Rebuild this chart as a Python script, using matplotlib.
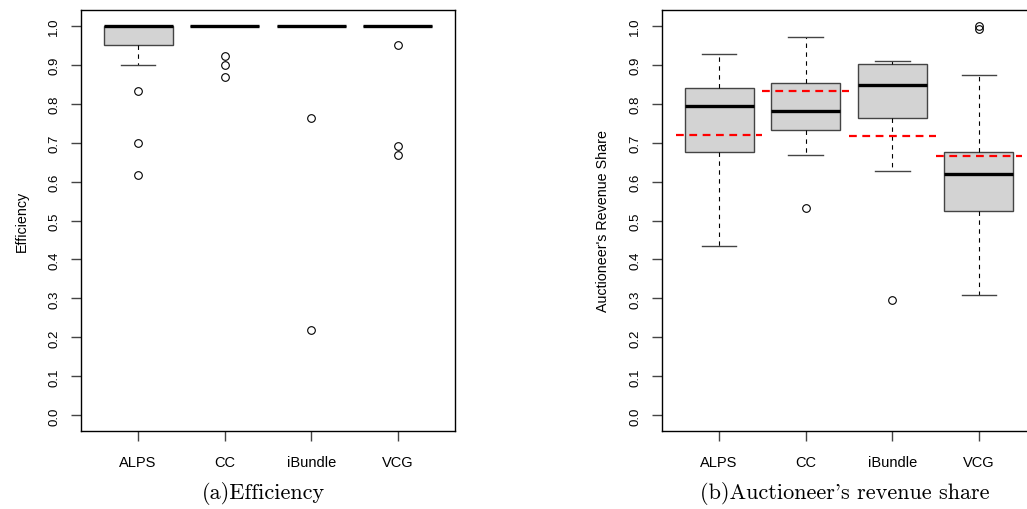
import matplotlib
matplotlib.use("Agg")
import matplotlib.pyplot as plt

# auction mechanisms on the x axis
mechanisms = ["ALPS", "CC", "iBundle", "VCG"]

# (a) efficiency: five-number summaries and outliers
eff_whislo = [0.90, 1.0, 1.0, 1.0]
eff_q1 = [0.95, 1.0, 1.0, 1.0]
eff_med = [1.0, 1.0, 1.0, 1.0]
eff_q3 = [1.0, 1.0, 1.0, 1.0]
eff_whishi = [1.0, 1.0, 1.0, 1.0]
eff_fliers = [[0.833, 0.70, 0.617],
              [0.923, 0.90, 0.867],
              [0.763, 0.218],
              [0.95, 0.69, 0.667]]

# (b) auctioneer's revenue share
rev_whislo = [0.434, 0.667, 0.627, 0.310]
rev_q1 = [0.676, 0.733, 0.764, 0.525]
rev_med = [0.793, 0.781, 0.847, 0.619]
rev_q3 = [0.841, 0.853, 0.902, 0.675]
rev_whishi = [0.927, 0.972, 0.909, 0.874]
rev_fliers = [[], [0.533], [0.297], [0.998, 0.992]]
rev_mean = [0.720, 0.831, 0.716, 0.665]

yticks = [i / 10 for i in range(11)]


def make_stats(lo, q1, med, q3, hi, fl):
    return [dict(whislo=a, q1=b, med=c, q3=d, whishi=e, fliers=f)
            for a, b, c, d, e, f in zip(lo, q1, med, q3, hi, fl)]


def r_boxplot(ax, stats, ylabel):
    pos = list(range(1, len(stats) + 1))
    ax.bxp(stats, positions=pos, widths=0.8, capwidths=0.4,
           patch_artist=True, showfliers=True,
           boxprops=dict(facecolor="#d3d3d3", edgecolor="#444444", linewidth=1.0),
           medianprops=dict(color="black", linewidth=2.4, solid_capstyle="butt"),
           whiskerprops=dict(color="black", linewidth=0.8, linestyle=(0, (4, 4))),
           capprops=dict(color="#444444", linewidth=1.0),
           flierprops=dict(marker="o", markerfacecolor="none",
                           markeredgecolor="black", markersize=5.5,
                           markeredgewidth=0.8))
    ax.set_xlim(0.34, 4.66)
    ax.set_ylim(-0.04, 1.04)
    ax.set_xticks(pos)
    ax.set_xticklabels(mechanisms, fontsize=10.5, family="Liberation Sans")
    ax.set_yticks(yticks)
    ax.set_yticklabels([f"{v:.1f}" for v in yticks], rotation=90,
                       va="center", fontsize=9.5, family="Liberation Sans")
    ax.tick_params(axis="x", length=7, width=1, color="#444444", pad=10)
    ax.tick_params(axis="y", length=7, width=1, color="#444444", pad=8)
    for s in ax.spines.values():
        s.set_linewidth(1.0)
        s.set_color("black")
    ax.set_ylabel(ylabel, fontsize=10.3, family="Liberation Sans", labelpad=14)


fig = plt.figure(figsize=(10.27, 5.10), dpi=100)
W, H = 1027, 510
ax1 = fig.add_axes([81 / W, 78 / H, 374 / W, 421 / H])
ax2 = fig.add_axes([662 / W, 78 / H, 374 / W, 421 / H])

r_boxplot(ax1, make_stats(eff_whislo, eff_q1, eff_med, eff_q3, eff_whishi, eff_fliers),
          "Efficiency")
r_boxplot(ax2, make_stats(rev_whislo, rev_q1, rev_med, rev_q3, rev_whishi, rev_fliers),
          "Auctioneer's Revenue Share")

# mean revenue share as red dashed lines across each slot
for i, m in enumerate(rev_mean):
    ax2.plot([i + 0.5, i + 1.5], [m, m], color="red", linewidth=1.6,
             linestyle=(0, (3.5, 2.5)), zorder=4)

cap_font = dict(family=["cmr10", "DejaVu Serif"], fontsize=16)
fig.text(263 / W, 1 - 499 / H, "(a)Efficiency", ha="center", va="baseline", **cap_font)
fig.text(845 / W, 1 - 499 / H, "(b)Auctioneer's revenue share",
         ha="center", va="baseline", **cap_font)

fig.savefig("out.png", dpi=100)
